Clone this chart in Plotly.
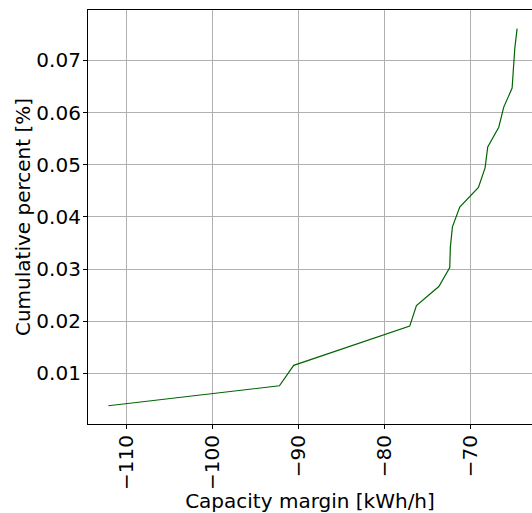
import plotly.graph_objects as go

# Capacity margin values [kWh/h] and their cumulative share
capacity_margin = [-112.09, -92.23, -90.57, -77.10, -76.32, -73.72, -72.45, -72.38,
                   -72.14, -71.29, -69.12, -68.35, -68.04, -66.76, -66.18, -65.21,
                   -64.90, -64.63]
cumulative_percent = [0.00379, 0.00762, 0.01153, 0.01906, 0.02300, 0.02665, 0.03030,
                      0.03420, 0.03810, 0.04190, 0.04563, 0.04940, 0.05340, 0.05720,
                      0.06105, 0.06470, 0.07230, 0.07610]

x_ticks = [-110, -100, -90, -80, -70]
y_ticks = [0.01, 0.02, 0.03, 0.04, 0.05, 0.06, 0.07]

FONT = "DejaVu Sans"

fig = go.Figure(
    go.Scatter(
        x=capacity_margin,
        y=cumulative_percent,
        mode="lines",
        line=dict(color="#006400", width=1.2),
        showlegend=False,
    )
)

axis_common = dict(
    showgrid=True,
    gridcolor="#b0b0b0",
    gridwidth=1,
    zeroline=False,
    showline=True,
    linecolor="black",
    linewidth=1.2,
    ticks="outside",
    ticklen=4,
    tickwidth=1,
    tickcolor="black",
    ticklabelstandoff=-2,
    tickfont=dict(family=FONT, size=20, color="black"),
)

fig.update_xaxes(
    **axis_common,
    mirror=True,
    range=[-114.46, -62.9],
    tickvals=x_ticks,
    ticktext=["\u2212" + str(abs(v)) for v in x_ticks],
    tickangle=-90,
    title=dict(text="Capacity margin [kWh/h]", font=dict(family=FONT, size=20, color="black"), standoff=4),
)
fig.update_yaxes(
    **axis_common,
    range=[0.00029, 0.07967],
    tickvals=y_ticks,
    tickformat=".2f",
    title=dict(text="Cumulative percent [%]", font=dict(family=FONT, size=20, color="black"), standoff=0),
)

fig.update_layout(
    width=532,
    height=513,
    margin=dict(l=88, r=0, t=10, b=89),
    plot_bgcolor="white",
    paper_bgcolor="white",
)

fig.write_html("out.html")
